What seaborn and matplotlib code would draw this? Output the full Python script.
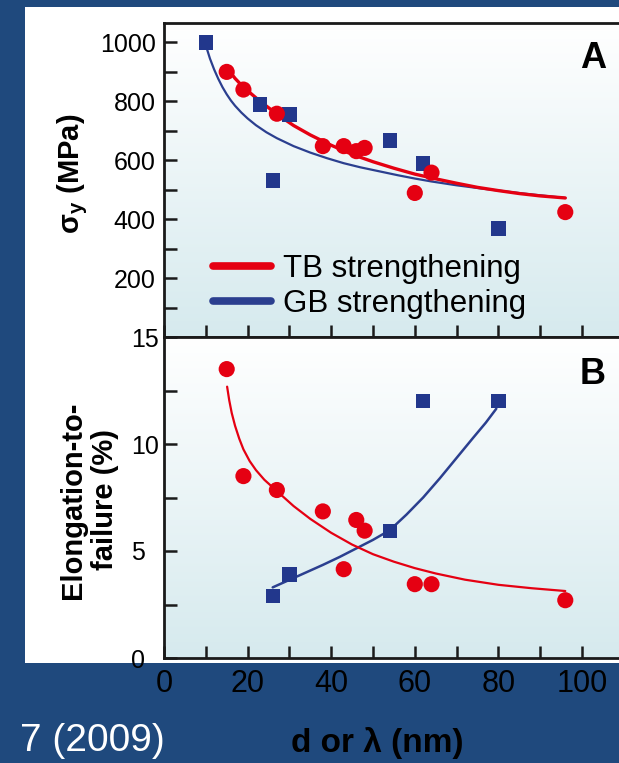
import numpy as np
import matplotlib
matplotlib.use('Agg')
import matplotlib.pyplot as plt
import seaborn as sns
from matplotlib.colors import LinearSegmentedColormap
from matplotlib.lines import Line2D
from matplotlib.patches import Rectangle
from matplotlib.ticker import FixedLocator, MultipleLocator

sns.set_style('white')
plt.rcParams['font.family'] = ['Liberation Sans', 'DejaVu Sans']
plt.rcParams['mathtext.fontset'] = 'custom'
plt.rcParams['mathtext.rm'] = 'Liberation Sans'
plt.rcParams['mathtext.bf'] = 'Liberation Sans:bold'
plt.rcParams['mathtext.it'] = 'Liberation Sans:italic'
plt.rcParams['text.color'] = 'black'
plt.rcParams['xtick.labelcolor'] = 'black'
plt.rcParams['ytick.labelcolor'] = 'black'

# --- data ---
# panel A: yield strength (MPa)
tb_d = [15, 19, 27, 38, 43, 46, 48, 60, 64, 96]
tb_sigma = [900, 840, 758, 648, 648, 631, 642, 489, 558, 424]
gb_d = [10, 23, 26, 30, 54, 62, 80]
gb_sigma = [1000, 789, 531, 755, 667, 589, 368]

# fitted curves, panel A
tb_fit_d = [15, 17, 19, 23, 27, 31, 35, 40, 45, 50, 55, 60, 65, 70, 75, 80, 85, 90, 96]
tb_fit_sigma = [915, 878, 848, 800, 757, 718, 686, 651, 620, 595, 573, 553, 537, 522, 508, 497, 487, 479, 472]
gb_fit_d = [10, 11, 12, 13, 14, 15, 16, 17, 18.5, 20, 22, 24.5, 27, 31, 35, 39, 43, 47, 52, 56,
            60, 64, 70, 76, 86, 96]
gb_fit_sigma = [990, 945, 908, 876, 848, 824, 803, 785, 762, 742, 719, 695, 675, 648, 626, 607,
                590, 576, 561, 549, 538, 528, 515, 504, 487, 472]

# panel B: elongation-to-failure (%)
tb_elong = [13.5, 8.5, 7.85, 6.85, 4.15, 6.45, 5.95, 3.45, 3.45, 2.7]
gb_d_b = [26, 30, 54, 62, 80]
gb_elong = [2.9, 3.9, 5.95, 12, 12]

tb_fit_d_b = [15.1, 15.6, 16.2, 17, 18, 19, 20.5, 22, 24, 27, 31, 35, 40, 45, 50, 55, 60, 65,
              72, 80, 88, 96]
tb_fit_elong = [12.68, 12.05, 11.45, 10.85, 10.25, 9.75, 9.2, 8.78, 8.33, 7.8, 7.1, 6.5, 5.85,
                5.3, 4.85, 4.5, 4.2, 3.95, 3.66, 3.42, 3.26, 3.13]
gb_fit_d_b = [26, 30, 34, 38, 42, 46, 50, 54, 58, 62, 66, 70, 74, 77, 79.5]
gb_fit_elong = [3.3, 3.65, 4.0, 4.35, 4.72, 5.12, 5.52, 5.97, 6.7, 7.5, 8.4, 9.35, 10.3, 11.0, 11.65]

RED = '#e50012'
BLUE = '#22378c'
BLUE_LINE = '#2b3f8f'
BG = '#1f497d'

W, H = 619, 763
fig = plt.figure(figsize=(W / 100, H / 100), dpi=100, facecolor=BG)


def box(x0, y0, x1, y1):
    # pixel box (top-left origin) -> figure fraction rect
    return [x0 / W, 1 - y1 / H, (x1 - x0) / W, (y1 - y0) / H]


# white slide panel behind the chart
fig.add_artist(Rectangle((25 / W, 1 - 663 / H), 1.0, (663 - 7) / H,
                         transform=fig.transFigure, facecolor='white',
                         edgecolor='none', zorder=0))

axA = fig.add_axes(box(164, 23, 650, 337))
axB = fig.add_axes(box(164, 337, 650, 658))

grad_cmap = LinearSegmentedColormap.from_list('panel', ['#ffffff', '#d6eaee'])
grad = np.linspace(0, 1, 256).reshape(-1, 1)

xmax = (650 - 164) / 4.18
for ax in (axA, axB):
    ax.set_facecolor('none')
    ax.imshow(grad, extent=[0, 1, 0, 1], transform=ax.transAxes, cmap=grad_cmap,
              aspect='auto', zorder=0)
    for side in ('left', 'top', 'bottom'):
        ax.spines[side].set_linewidth(2)
        ax.spines[side].set_color('#1a1a1a')
    ax.spines['right'].set_visible(False)
    ax.set_xlim(0, xmax)

# panel A
sns.lineplot(x=tb_fit_d, y=tb_fit_sigma, ax=axA, color=RED, lw=2.4,
             estimator=None, sort=False, zorder=3)
sns.lineplot(x=gb_fit_d, y=gb_fit_sigma, ax=axA, color=BLUE_LINE, lw=1.6,
             estimator=None, sort=False, zorder=2)
sns.scatterplot(x=tb_d, y=tb_sigma, ax=axA, color=RED, marker='o', s=135,
                edgecolor='none', zorder=5)
sns.scatterplot(x=gb_d, y=gb_sigma, ax=axA, color=BLUE, marker='s', s=105,
                edgecolor='none', zorder=4)
axA.set_ylim(0, 1066)
axA.set_xlim(0, xmax)
axA.yaxis.set_major_locator(FixedLocator([200, 400, 600, 800, 1000]))
axA.yaxis.set_minor_locator(MultipleLocator(100))
axA.xaxis.set_major_locator(MultipleLocator(10))
axA.tick_params(axis='both', which='both', direction='in', length=9, width=1.8,
                color='#1a1a1a', labelsize=18, pad=6, left=True, bottom=True,
                labelbottom=False)
axA.set_xlabel('')
axA.set_ylabel('')

handles = [Line2D([], [], color=RED, lw=5.5), Line2D([], [], color=BLUE_LINE, lw=5.5)]
axA.legend(handles, ['TB strengthening', 'GB strengthening'], loc='lower left',
           bbox_to_anchor=(213 / W, 1 - 319 / H), bbox_transform=fig.transFigure,
           frameon=False, fontsize=22.5, handlelength=1.85, handletextpad=0.4,
           labelspacing=0.15, borderpad=0, borderaxespad=0)

# panel B
sns.lineplot(x=tb_fit_d_b, y=tb_fit_elong, ax=axB, color=RED, lw=1.6,
             estimator=None, sort=False, zorder=3)
sns.lineplot(x=gb_fit_d_b, y=gb_fit_elong, ax=axB, color=BLUE_LINE, lw=1.8,
             estimator=None, sort=False, zorder=2)
sns.scatterplot(x=tb_d, y=tb_elong, ax=axB, color=RED, marker='o', s=135,
                edgecolor='none', zorder=5)
sns.scatterplot(x=gb_d_b, y=gb_elong, ax=axB, color=BLUE, marker='s', s=105,
                edgecolor='none', zorder=4)
axB.set_ylim(0, 15)
axB.set_xlim(0, xmax)
axB.yaxis.set_major_locator(FixedLocator([0, 5, 10, 15]))
axB.yaxis.set_minor_locator(MultipleLocator(2.5))
axB.xaxis.set_major_locator(FixedLocator([0, 20, 40, 60, 80, 100]))
axB.xaxis.set_minor_locator(MultipleLocator(10))
axB.tick_params(axis='both', which='both', direction='in', length=9, width=1.8,
                color='#1a1a1a', left=True, bottom=True)
axB.tick_params(axis='y', labelsize=18, pad=24)
axB.tick_params(axis='x', labelsize=22, pad=8, labelcolor='black')
for lbl in axB.get_yticklabels():
    lbl.set_horizontalalignment('left')
axB.set_xlabel('')
axB.set_ylabel('')

# panel letters and axis titles
fig.text(593 / W, 1 - 58 / H, 'A', fontsize=26, fontweight='bold', ha='center', va='center')
fig.text(593 / W, 1 - 374 / H, 'B', fontsize=26, fontweight='bold', ha='center', va='center')
fig.text(73 / W, 1 - 174 / H, 'σ$_\\mathbf{y}$ (MPa)', fontsize=21, fontweight='bold',
         rotation=90, ha='center', va='center')
fig.text(89 / W, 1 - 500 / H, 'Elongation-to-\nfailure (%)', fontsize=21, fontweight='bold',
         rotation=90, ha='center', va='center', multialignment='center', linespacing=1.2)
fig.text(377 / W, 1 - 743 / H, 'd or λ (nm)', fontsize=24, fontweight='bold', color='black',
         ha='center', va='center')
fig.text(165 / W, 1 - 741 / H, '7 (2009)', fontsize=28, color='white',
         ha='right', va='center')

fig.savefig('out.png', dpi=100, facecolor=BG)
